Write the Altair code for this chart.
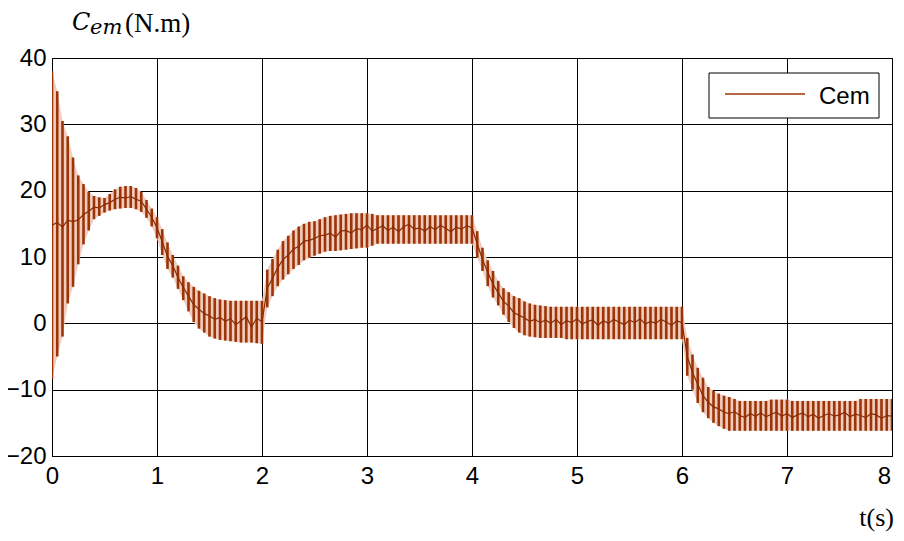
import altair as alt
import pandas as pd

t_values = [round(i * 0.05, 2) for i in range(161)]

upper = [
    38.0, 35.0, 30.5, 28.2, 25.0, 22.3, 21.0, 19.8, 19.2, 19.0,
    18.9, 19.5, 20.2, 20.6, 20.7, 20.7, 20.4, 19.8, 18.6, 17.3,
    16.0, 14.2, 12.2, 10.3, 8.7, 7.1, 6.2, 5.5, 4.9, 4.5,
    4.1, 3.8, 3.6, 3.5, 3.4, 3.4, 3.4, 3.4, 3.4, 3.4,
    3.4, 8.1, 9.7, 11.1, 12.4, 13.2, 14.0, 14.6, 15.0, 15.3,
    15.4, 15.7, 16.0, 16.2, 16.3, 16.4, 16.5, 16.6, 16.6, 16.6,
    16.6, 16.5, 16.3, 16.3, 16.3, 16.3, 16.3, 16.3, 16.3, 16.3,
    16.3, 16.3, 16.3, 16.3, 16.3, 16.3, 16.3, 16.3, 16.3, 16.3,
    16.3, 13.9, 11.4, 9.5, 7.9, 6.4, 5.3, 4.7, 4.1, 3.8,
    3.3, 3.0, 2.8, 2.7, 2.6, 2.5, 2.5, 2.5, 2.5, 2.5,
    2.5, 2.5, 2.5, 2.5, 2.5, 2.5, 2.5, 2.5, 2.5, 2.5,
    2.5, 2.5, 2.5, 2.5, 2.5, 2.5, 2.5, 2.5, 2.5, 2.5,
    2.5, -2.2, -4.7, -6.7, -8.2, -9.6, -10.2, -10.6, -10.9, -11.1,
    -11.4, -11.7, -11.7, -11.7, -11.7, -11.7, -11.7, -11.5, -11.5, -11.5,
    -11.5, -11.7, -11.7, -11.7, -11.7, -11.7, -11.7, -11.7, -11.7, -11.7,
    -11.7, -11.7, -11.7, -11.7, -11.4, -11.4, -11.4, -11.4, -11.4, -11.4,
    -11.4,
]

lower = [
    -8.4, -5.0, -2.0, 3.0, 5.5, 8.9, 11.9, 14.0, 15.7, 16.2,
    16.7, 17.0, 17.2, 17.3, 17.4, 17.4, 17.2, 16.8, 15.9, 14.6,
    12.8, 10.3, 8.2, 6.9, 5.2, 3.5, 1.8, 0.2, -0.8, -1.4,
    -2.0, -2.3, -2.5, -2.6, -2.7, -2.8, -2.9, -2.9, -2.9, -3.0,
    -3.1, 2.4, 4.1, 5.6, 6.6, 7.4, 8.2, 8.8, 9.5, 9.9,
    10.2, 10.5, 10.8, 10.9, 10.9, 11.0, 11.1, 11.2, 11.3, 11.4,
    11.4, 11.7, 12.0, 12.0, 12.0, 12.0, 12.0, 12.0, 12.0, 12.0,
    12.0, 12.0, 12.0, 12.0, 12.0, 12.0, 12.0, 12.0, 12.0, 12.0,
    12.0, 9.9, 7.9, 5.6, 3.9, 2.7, 1.3, 0.2, -0.7, -1.4,
    -1.8, -2.0, -2.1, -2.2, -2.2, -2.2, -2.2, -2.2, -2.4, -2.4,
    -2.4, -2.4, -2.4, -2.4, -2.4, -2.4, -2.4, -2.4, -2.4, -2.4,
    -2.4, -2.4, -2.4, -2.4, -2.4, -2.4, -2.4, -2.4, -2.4, -2.4,
    -2.4, -7.9, -10.0, -12.0, -13.4, -14.3, -15.0, -15.5, -15.9, -16.2,
    -16.2, -16.2, -16.2, -16.2, -16.2, -16.2, -16.2, -16.2, -16.2, -16.2,
    -16.2, -16.2, -16.2, -16.2, -16.2, -16.2, -16.2, -16.2, -16.2, -16.2,
    -16.2, -16.2, -16.2, -16.2, -16.2, -16.2, -16.2, -16.2, -16.2, -16.2,
    -16.2,
]

middle = [
    14.8, 15.2, 14.5, 15.6, 15.3, 15.6, 16.4, 16.9, 17.5, 17.4,
    17.9, 18.2, 18.7, 19.0, 18.9, 19.1, 18.7, 18.4, 17.2, 16.0,
    14.4, 12.3, 10.1, 8.7, 6.9, 5.4, 4.1, 2.8, 2.1, 1.5,
    1.1, 0.6, 0.9, 0.3, 0.7, -0.2, 0.4, 1.0, -0.6, 0.8,
    0.2, 5.3, 6.8, 8.4, 9.6, 10.3, 11.2, 11.6, 12.4, 12.5,
    12.8, 13.2, 13.3, 13.6, 13.0, 13.9, 14.0, 13.6, 14.3, 14.1,
    14.8, 13.9, 14.3, 14.7, 14.0, 14.5, 13.8, 14.6, 14.9, 14.2,
    14.4, 13.9, 14.6, 14.1, 14.8, 14.3, 13.8, 14.5, 14.2, 14.7,
    14.4, 12.0, 9.6, 7.7, 5.9, 4.6, 3.3, 2.6, 1.6, 1.2,
    0.8, 0.3, 0.6, 0.1, 0.5, 0.0, 0.6, -0.2, 0.4, 0.1,
    0.7, -0.1, 0.3, 0.5, -0.3, 0.4, 0.0, 0.6, 0.2, -0.2,
    0.5, 0.1, 0.7, -0.1, 0.3, 0.0, 0.6, 0.2, -0.3, 0.4,
    0.1, -5.0, -7.4, -9.2, -10.9, -11.9, -12.6, -12.9, -13.4, -13.6,
    -13.3, -13.9, -14.2, -13.6, -14.0, -13.5, -14.1, -13.7, -13.4, -14.0,
    -13.6, -14.2, -13.8, -13.5, -14.1, -13.7, -14.3, -13.9, -13.6, -14.0,
    -13.8, -13.4, -14.1, -13.7, -13.9, -14.2, -13.6, -13.8, -14.3, -13.9,
    -14.0,
]

x_ticks = [0, 1, 2, 3, 4, 5, 6, 7, 8]
y_ticks = [-20, -10, 0, 10, 20, 30, 40]
series_name = ["Cem"]
ylabel_parts = ["C", "em", "(N.m)"]
xlabel = ["t(s)"]

DARK = "#9c3408"
LIGHT = "#f0cdbd"

df = pd.DataFrame({"t": t_values, "hi": upper, "lo": lower, "mid": middle})

xs = alt.Scale(domain=[0, 8], nice=False, zero=False)
ys = alt.Scale(domain=[-20, 40], nice=False, zero=False)

x_axis = alt.Axis(values=x_ticks, title=None, grid=True, ticks=False, domain=False,
                  labelFont="Liberation Sans", labelFontSize=24, labelColor="black",
                  labelPadding=8, labelFlush=False, format="d",
                  labelOffset=alt.condition("datum.value == 8", alt.value(-8), alt.value(0)))
y_axis = alt.Axis(values=y_ticks, title=None, grid=True, ticks=False, domain=False,
                  labelFont="Liberation Sans", labelFontSize=24, labelColor="black",
                  labelPadding=6, format="d")

base = alt.Chart(df)

band = base.mark_area(color=LIGHT, clip=True).encode(
    x=alt.X("t:Q", scale=xs, axis=x_axis),
    y=alt.Y("lo:Q", scale=ys, axis=y_axis),
    y2="hi:Q",
)

bars = base.mark_rule(color=DARK, strokeWidth=2.6, clip=True).encode(
    x=alt.X("t:Q", scale=xs),
    y=alt.Y("lo:Q", scale=ys),
    y2="hi:Q",
)

center = base.mark_line(color="#8a2a00", strokeWidth=1.2, clip=True).encode(
    x=alt.X("t:Q", scale=xs),
    y=alt.Y("mid:Q", scale=ys),
)

one = pd.DataFrame({"a": [0]})

legend_box = alt.Chart(one).mark_rect(fill="white", stroke="black", strokeWidth=1).encode(
    x=alt.value(657), x2=alt.value(827), y=alt.value(15), y2=alt.value(60)
)
legend_line = alt.Chart(one).mark_rule(color=DARK, strokeWidth=1.3).encode(
    x=alt.value(673), x2=alt.value(753), y=alt.value(36)
)
legend_text = alt.Chart(pd.DataFrame({"s": series_name})).mark_text(
    font="Liberation Sans", fontSize=24, align="left", baseline="alphabetic", color="black"
).encode(text="s:N", x=alt.value(767), y=alt.value(46))

t_c = alt.Chart(pd.DataFrame({"s": [ylabel_parts[0]]})).mark_text(
    font="DejaVu Serif", fontStyle="italic", fontSize=24, align="left",
    baseline="alphabetic", color="black"
).encode(text="s:N", x=alt.value(20), y=alt.value(-28.5))
t_em = alt.Chart(pd.DataFrame({"s": [ylabel_parts[1]]})).mark_text(
    font="DejaVu Serif", fontStyle="italic", fontSize=21, align="left",
    baseline="alphabetic", color="black"
).encode(text="s:N", x=alt.value(38), y=alt.value(-24.5))
t_nm = alt.Chart(pd.DataFrame({"s": [ylabel_parts[2]]})).mark_text(
    font="Liberation Serif", fontSize=27, align="left",
    baseline="alphabetic", color="black"
).encode(text="s:N", x=alt.value(73), y=alt.value(-26.5))

t_x = alt.Chart(pd.DataFrame({"s": xlabel})).mark_text(
    font="Liberation Serif", fontSize=26, align="right",
    baseline="alphabetic", color="black"
).encode(text="s:N", x=alt.value(842), y=alt.value(468))

chart = alt.layer(
    band, bars, center, legend_box, legend_line, legend_text, t_c, t_em, t_nm, t_x
).properties(
    width=840, height=398,
    autosize=alt.AutoSizeParams(type="none"),
    padding={"left": 44, "top": 50, "right": 4, "bottom": 76},
    background="white",
).configure_view(
    stroke="black", strokeWidth=1
).configure_axis(
    gridColor="black", gridOpacity=1, gridWidth=1
)

chart.save("out.html", embed_options={"renderer": "svg", "actions": False})
